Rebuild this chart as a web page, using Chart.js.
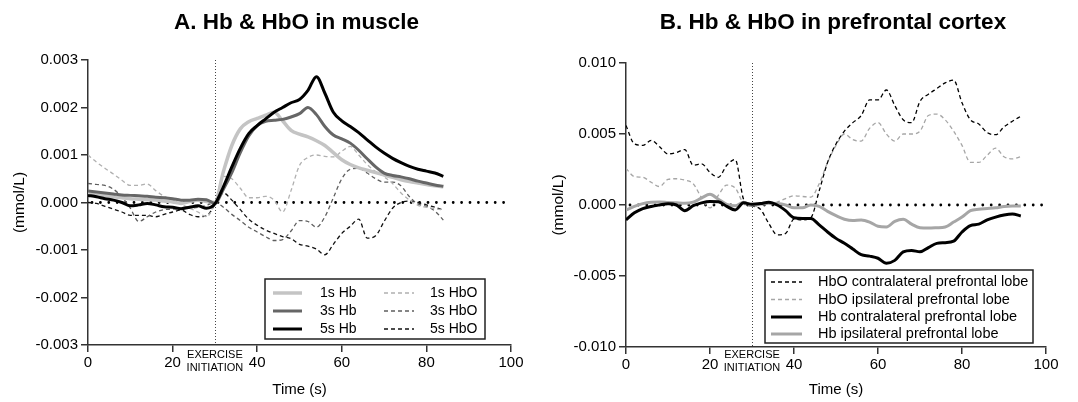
<!DOCTYPE html>
<html>
<head>
<meta charset="utf-8">
<script src="https://cdn.jsdelivr.net/npm/chart.js@4.4.1/dist/chart.umd.min.js"></script>
<style>
  body { margin: 0; background: #fff; }
  #wrap { position: relative; width: 1078px; height: 402px; }
  canvas { position: absolute; top: 0; }
</style>
</head>
<body>
<div id="wrap">
  <canvas id="muscle" width="539" height="402" style="left:0"></canvas>
  <canvas id="cortex" width="539" height="402" style="left:539px"></canvas>
</div>
<script>
// values in 0.001 mmol/L
const timeA = [0,2,4,6,8,10,12,14,16,18,20,22,24,26,28,30,32,34,36,38,40,42,44,46,48,50,52,54,56,58,60,62,64,66,68,70,72,74,76,78,80,82,84];
const hb1s  = [0.19,0.16,0.14,0.12,0.10,0.08,0.07,0.06,0.05,0.03,0.01,-0.02,0.02,0.05,0.02,0.0,0.65,1.2,1.55,1.7,1.77,1.84,1.9,1.72,1.52,1.44,1.38,1.3,1.2,1.05,0.9,0.8,0.73,0.68,0.63,0.58,0.53,0.48,0.44,0.41,0.38,0.35,0.33];
const hb3s  = [0.24,0.22,0.20,0.18,0.16,0.15,0.14,0.13,0.11,0.10,0.08,0.05,0.05,0.07,0.06,-0.02,0.28,0.63,1.05,1.4,1.62,1.71,1.73,1.75,1.8,1.87,2.0,1.85,1.6,1.42,1.34,1.25,1.1,0.92,0.75,0.62,0.57,0.54,0.5,0.45,0.41,0.37,0.34];
const hb5s  = [0.15,0.12,0.08,0.05,0.0,-0.07,-0.05,-0.02,-0.05,-0.09,-0.1,-0.13,-0.1,-0.07,-0.12,-0.03,0.33,0.75,1.14,1.45,1.62,1.76,1.9,2.0,2.1,2.17,2.36,2.65,2.3,1.9,1.72,1.6,1.47,1.32,1.17,1.04,0.93,0.84,0.76,0.7,0.66,0.62,0.55];
const hbo1s = [1.0,0.85,0.72,0.6,0.47,0.36,0.36,0.39,0.25,0.13,0.05,-0.04,-0.12,-0.2,-0.3,0.0,0.55,0.5,0.3,0.1,0.1,0.13,0.05,-0.2,0.25,0.78,0.95,1.0,0.97,0.96,1.08,1.18,1.0,0.8,0.65,0.54,0.4,0.2,0.05,-0.06,-0.1,-0.13,-0.16];
const hbo3s = [0.4,0.38,0.36,0.28,0.12,-0.12,-0.4,-0.3,-0.2,-0.15,-0.14,-0.13,-0.12,-0.1,-0.06,0.0,-0.1,-0.25,-0.38,-0.52,-0.62,-0.72,-0.8,-0.78,-0.6,-0.38,-0.4,-0.52,-0.3,0.1,0.5,0.7,0.72,0.62,0.5,0.43,0.43,0.35,0.12,-0.03,-0.08,-0.18,-0.37];
const hbo5s = [0.0,-0.02,-0.08,-0.14,-0.2,-0.27,-0.27,-0.27,-0.3,-0.25,-0.2,-0.16,-0.25,-0.3,-0.28,-0.05,0.2,0.05,-0.15,-0.35,-0.48,-0.58,-0.65,-0.72,-0.76,-0.88,-0.92,-0.98,-1.1,-0.88,-0.65,-0.5,-0.35,-0.75,-0.7,-0.4,-0.12,0.0,0.03,0.0,-0.05,-0.1,-0.16];

const timeB = [0,2,4,6,8,10,12,14,16,18,20,22,24,26,28,30,32,34,36,38,40,42,44,46,48,50,52,54,56,58,60,62,64,66,68,70,72,74,76,78,80,82,84,86,88,90,92,94];
const hboContra = [5.6,4.3,4.2,4.55,4.1,3.6,3.7,3.9,2.8,2.9,2.3,1.95,2.8,3.2,0.4,-0.05,-0.3,-1.3,-2.1,-2.0,-1.0,-1.05,-0.9,1.0,3.0,4.3,5.2,5.8,6.3,7.4,7.4,8.1,7.0,6.0,5.8,7.3,7.8,8.2,8.6,8.8,7.2,6.0,5.7,5.1,4.95,5.5,5.9,6.25];
const hboIpsi   = [2.58,2.0,1.95,1.6,1.3,1.8,1.85,1.75,1.5,0.5,-0.2,0.7,1.4,1.2,0.1,-0.1,0.0,0.05,0.2,0.45,0.65,0.6,0.55,1.5,3.0,4.2,5.0,4.6,4.5,5.4,5.8,5.0,4.5,5.0,5.0,5.2,6.3,6.4,6.0,5.2,4.2,3.0,3.0,3.5,4.0,3.4,3.25,3.4];
const hbContra  = [-1.05,-0.55,-0.25,-0.1,0.0,0.08,0.0,-0.4,-0.05,0.15,0.25,0.23,-0.1,-0.35,0.15,0.05,0.1,0.2,0.0,-0.4,-0.9,-0.95,-0.95,-1.4,-1.9,-2.35,-2.7,-3.1,-3.5,-3.6,-3.75,-4.1,-3.9,-3.3,-3.2,-3.3,-3.0,-2.7,-2.65,-2.55,-1.9,-1.45,-1.35,-1.05,-0.85,-0.7,-0.63,-0.77];
const hbIpsi    = [-0.35,-0.1,0.1,0.2,0.22,0.18,0.15,0.12,0.2,0.5,0.75,0.4,0.05,-0.05,0.2,0.0,0.05,0.12,0.1,0.0,-0.2,-0.2,0.0,-0.1,-0.45,-0.75,-1.0,-1.1,-1.05,-1.2,-1.5,-1.55,-1.15,-1.0,-1.35,-1.6,-1.62,-1.6,-1.55,-1.2,-0.85,-0.4,-0.3,-0.25,-0.2,-0.1,-0.07,-0.07];

const onsetTime = 30;
const ticksA = [-0.003, 0.003, 0.001];
const ticksB = [-0.010, 0.010, 0.005];

const FONT = "'Liberation Sans', Arial, sans-serif";
Chart.defaults.font.family = FONT;
Chart.defaults.color = '#000';

function pts(times, vals) {
  return times.map((t, i) => ({ x: t, y: vals[i] / 1000 }));
}

function line(label, times, vals, color, width, dashed) {
  return {
    label: label,
    data: pts(times, vals),
    borderColor: color,
    borderWidth: width,
    borderDash: dashed ? [4, 3] : [],
    pointRadius: 0,
    fill: false,
    cubicInterpolationMode: 'monotone'
  };
}

const decor = {
  id: 'decor',
  beforeDatasetsDraw(chart, args, o) {
    const { ctx, chartArea: a, scales: { x, y } } = chart;
    ctx.save();
    const y0 = y.getPixelForValue(0);
    ctx.strokeStyle = '#000';
    ctx.lineWidth = 2.8;
    ctx.lineCap = 'round';
    ctx.setLineDash([0, 8.4]);
    ctx.beginPath();
    ctx.moveTo(a.left + 4, y0);
    ctx.lineTo(x.getPixelForValue(100), y0);
    ctx.stroke();

    const xo = Math.round(x.getPixelForValue(onsetTime)) + 0.5;
    ctx.lineCap = 'butt';
    ctx.lineWidth = 1;
    ctx.strokeStyle = '#444';
    ctx.setLineDash([1, 2]);
    ctx.beginPath();
    ctx.moveTo(xo, a.top);
    ctx.lineTo(xo, a.bottom);
    ctx.stroke();
    ctx.restore();
  },
  afterDraw(chart, args, o) {
    const { ctx, chartArea: a, scales: { x } } = chart;
    const cx = (a.left + a.right) / 2;
    ctx.save();
    ctx.fillStyle = '#000';
    ctx.textAlign = 'center';
    ctx.textBaseline = 'middle';

    ctx.font = 'bold 22.5px ' + FONT;
    ctx.fillText(o.title, cx - 3, 23);

    ctx.font = '15px ' + FONT;
    ctx.fillText('Time (s)', cx, 390);

    ctx.font = '11px ' + FONT;
    const xo = x.getPixelForValue(onsetTime);
    ctx.fillText('EXERCISE', xo, 355);
    ctx.fillText('INITIATION', xo, 368);

    ctx.save();
    ctx.translate(20, (a.top + a.bottom) / 2);
    ctx.rotate(-Math.PI / 2);
    ctx.font = '15.5px ' + FONT;
    ctx.fillText('(mmol/L)', 0, 0);
    ctx.restore();

    // legend box
    const L = o.legend;
    ctx.fillStyle = '#fff';
    ctx.fillRect(L.x, L.y, L.w, L.h);
    ctx.lineWidth = 1.5;
    ctx.strokeStyle = '#222';
    ctx.strokeRect(L.x, L.y, L.w, L.h);
    ctx.font = L.size + 'px ' + FONT;
    ctx.textAlign = 'left';
    ctx.fillStyle = '#000';
    L.items.forEach(it => {
      const ds = chart.data.datasets.find(d => d.label === it.label);
      const cy = L.y + L.rows[it.row];
      const c = L.cols[it.col];
      ctx.strokeStyle = ds.borderColor;
      ctx.lineWidth = ds.borderWidth;
      ctx.setLineDash(ds.borderDash);
      ctx.beginPath();
      ctx.moveTo(L.x + c[0], cy);
      ctx.lineTo(L.x + c[1], cy);
      ctx.stroke();
      ctx.setLineDash([]);
      ctx.fillText(it.label, L.x + c[2], cy);
    });
    ctx.restore();
  }
};

function makeChart(id, datasets, yt, yWidth, pad, xHeight, title, legend) {
  return new Chart(document.getElementById(id), {
    type: 'line',
    data: { datasets: datasets },
    options: {
      responsive: false,
      animation: false,
      layout: { padding: pad },
      plugins: {
        legend: { display: false },
        tooltip: { enabled: false },
        decor: { title: title, legend: legend }
      },
      scales: {
        x: {
          type: 'linear',
          min: 0, max: 100,
          ticks: { stepSize: 20, font: { size: 15 }, padding: 2, color: '#000' },
          grid: { drawOnChartArea: false, drawTicks: true, tickLength: 7, color: '#333', lineWidth: 1.5 },
          border: { color: '#333', width: 1.5 },
          afterFit: s => { s.height = xHeight; }
        },
        y: {
          min: yt[0], max: yt[1],
          ticks: {
            stepSize: yt[2], font: { size: 15 }, padding: 3, color: '#000',
            callback: v => Math.abs(v) < 1e-9 ? '0.000' : v.toFixed(3)
          },
          grid: { drawOnChartArea: false, drawTicks: true, tickLength: 7, color: '#333', lineWidth: 1.5 },
          border: { color: '#333', width: 1.5 },
          afterFit: s => { s.width = yWidth; }
        }
      }
    },
    plugins: [decor]
  });
}

makeChart('muscle', [
  line('5s Hb', timeA, hb5s, '#000000', 3, false),
  line('3s Hb', timeA, hb3s, '#666666', 3, false),
  line('1s Hb', timeA, hb1s, '#c4c4c4', 3.5, false),
  line('1s HbO', timeA, hbo1s, '#b0b0b0', 1.3, true),
  line('3s HbO', timeA, hbo3s, '#5e5e5e', 1.3, true),
  line('5s HbO', timeA, hbo5s, '#111111', 1.3, true)
], ticksA, 88, { left: 0, top: 60, right: 28, bottom: 0 }, 57,
  'A. Hb & HbO in muscle',
  { x: 265, y: 279, w: 220, h: 60, size: 14, rows: [14, 32, 50],
    cols: [[8, 37, 55], [119, 149, 165]],
    items: [
      { label: '1s Hb', col: 0, row: 0 }, { label: '3s Hb', col: 0, row: 1 }, { label: '5s Hb', col: 0, row: 2 },
      { label: '1s HbO', col: 1, row: 0 }, { label: '3s HbO', col: 1, row: 1 }, { label: '5s HbO', col: 1, row: 2 }
    ] });

makeChart('cortex', [
  line('Hb contralateral prefrontal lobe', timeB, hbContra, '#000000', 3, false),
  line('Hb ipsilateral prefrontal lobe', timeB, hbIpsi, '#a6a6a6', 3, false),
  line('HbO contralateral prefrontal lobe', timeB, hboContra, '#000000', 1.3, true),
  line('HbO ipsilateral prefrontal lobe', timeB, hboIpsi, '#a6a6a6', 1.3, true)
], ticksB, 87, { left: 0, top: 63, right: 32, bottom: 0 }, 55,
  'B. Hb & HbO in prefrontal cortex',
  { x: 226, y: 270, w: 268, h: 73, size: 14.5, rows: [12, 29.5, 47, 64],
    cols: [[6, 37, 53]],
    items: [
      { label: 'HbO contralateral prefrontal lobe', col: 0, row: 0 },
      { label: 'HbO ipsilateral prefrontal lobe', col: 0, row: 1 },
      { label: 'Hb contralateral prefrontal lobe', col: 0, row: 2 },
      { label: 'Hb ipsilateral prefrontal lobe', col: 0, row: 3 }
    ] });
</script>
</body>
</html>
